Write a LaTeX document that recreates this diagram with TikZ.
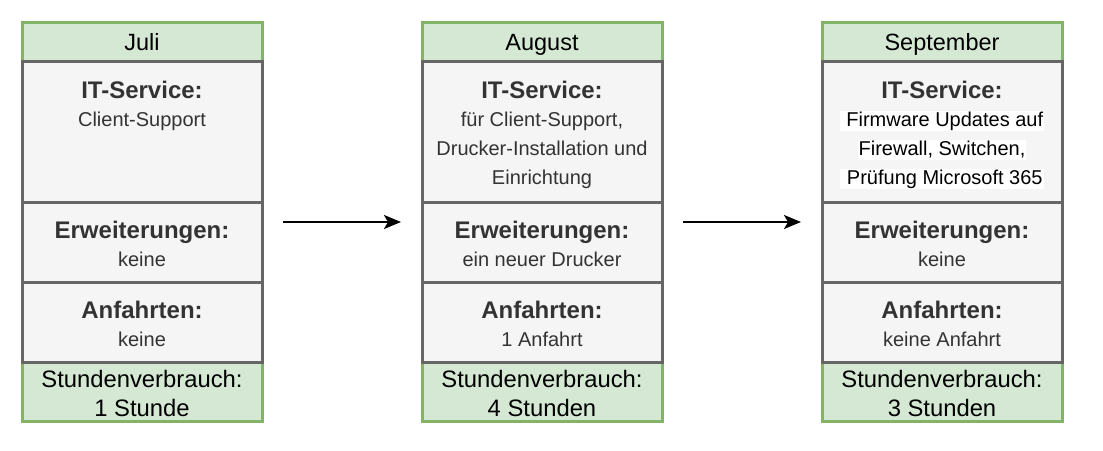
\documentclass[tikz,border=0pt]{standalone}
\usepackage{fontspec}
\setmainfont{Liberation Sans}
\usetikzlibrary{arrows.meta}
\definecolor{gfill}{HTML}{D5E8D4}
\definecolor{gline}{HTML}{82B366}
\definecolor{pfill}{HTML}{F5F5F5}
\definecolor{pline}{HTML}{666666}
\definecolor{ptext}{HTML}{333333}
\tikzset{
  greenbox/.style={draw=gline, fill=gfill, line width=3pt, minimum width=240pt, inner sep=0pt},
  graybox/.style={draw=pline, fill=pfill, line width=3pt, minimum width=240pt, inner sep=0pt},
  hdrtext/.style={anchor=base, inner sep=0pt, text=black, font=\fontsize{23.5}{28}\selectfont},
  foottext/.style={anchor=base, inner sep=0pt, text=black, font=\fontsize{23.8}{28}\selectfont},
  titletext/.style={anchor=base, inner sep=0pt, text=ptext, font=\fontsize{24}{28}\selectfont\bfseries},
  bodytext/.style={anchor=base, inner sep=0pt, text=ptext, font=\fontsize{20}{24}\selectfont},
  hltext/.style={anchor=base, inner xsep=1pt, inner ysep=0pt, text height=15pt, text depth=5pt, fill=white, text=black, font=\fontsize{20}{24}\selectfont},
  flow/.style={line width=2pt, -{Stealth[length=17pt, width=14pt, inset=4pt]}}
}
\begin{document}
\begin{tikzpicture}[x=1pt, y=-1pt]
\useasboundingbox (0,0) rectangle (1103,450);
% ---------- Column 1: Juli ----------
\node[greenbox, minimum height=39.5pt] (jh) at (142,41.75) {};
\node[greenbox, minimum height=59pt] (jf) at (142,392) {};
\node[graybox, minimum height=140.5pt] (js) at (142,131.75) {};
\node[graybox, minimum height=80pt] (je) at (142,242) {};
\node[graybox, minimum height=80pt] (ja) at (142,322) {};
\node[hdrtext] (jht) at (142,50) {Juli};
\node[titletext] (jst) at (142,98.5) {IT-Service:};
\node[bodytext] (js1) at (142,126) {Client-Support};
\node[titletext] (jet) at (142,238.5) {Erweiterungen:};
\node[bodytext] (je1) at (142,266) {keine};
\node[titletext] (jat) at (142,318.5) {Anfahrten:};
\node[bodytext] (ja1) at (142,346) {keine};
\node[foottext] (jf1) at (142,387.5) {Stundenverbrauch:};
\node[foottext] (jf2) at (142,416.5) {1 Stunde};
% ---------- Column 2: August ----------
\node[greenbox, minimum height=39.5pt] (ah) at (542,41.75) {};
\node[greenbox, minimum height=59pt] (af) at (542,392) {};
\node[graybox, minimum height=140.5pt] (as) at (542,131.75) {};
\node[graybox, minimum height=80pt] (ae) at (542,242) {};
\node[graybox, minimum height=80pt] (aa) at (542,322) {};
\node[hdrtext] (aht) at (542,50) {August};
\node[titletext] (ast) at (542,98.5) {IT-Service:};
\node[bodytext] (as1) at (542,126) {für Client-Support,};
\node[bodytext] (as2) at (542,155) {Drucker-Installation und};
\node[bodytext] (as3) at (542,184) {Einrichtung};
\node[titletext] (aet) at (542,238.5) {Erweiterungen:};
\node[bodytext] (ae1) at (542,266) {ein neuer Drucker};
\node[titletext] (aat) at (542,318.5) {Anfahrten:};
\node[bodytext] (aa1) at (542,346) {1 Anfahrt};
\node[foottext] (af1) at (542,387.5) {Stundenverbrauch:};
\node[foottext] (af2) at (542,416.5) {4 Stunden};
% ---------- Column 3: September ----------
\node[greenbox, minimum height=39.5pt] (sh) at (942,41.75) {};
\node[greenbox, minimum height=59pt] (sf) at (942,392) {};
\node[graybox, minimum height=140.5pt] (ss) at (942,131.75) {};
\node[graybox, minimum height=80pt] (se) at (942,242) {};
\node[graybox, minimum height=80pt] (sa) at (942,322) {};
\node[hdrtext] (sht) at (942,50) {September};
\node[titletext] (sst) at (942,98.5) {IT-Service:};
\node[hltext] (ss1) at (942,126) {\ Firmware Updates auf};
\node[hltext] (ss2) at (942,155) {Firewall, Switchen,\ };
\node[hltext] (ss3) at (942,184) {\ Prüfung Microsoft 365};
\node[titletext] (set) at (942,238.5) {Erweiterungen:};
\node[bodytext] (se1) at (942,266) {keine};
\node[titletext] (sat) at (942,318.5) {Anfahrten:};
\node[bodytext] (sa1) at (942,346) {keine Anfahrt};
\node[foottext] (sf1) at (942,387.5) {Stundenverbrauch:};
\node[foottext] (sf2) at (942,416.5) {3 Stunden};
% ---------- Arrows ----------
\coordinate (a1s) at (283,222);
\coordinate (a1e) at (401,222);
\coordinate (a2s) at (683,222);
\coordinate (a2e) at (801,222);
\draw[flow] (a1s) -- (a1e);
\draw[flow] (a2s) -- (a2e);
\end{tikzpicture}
\end{document}
